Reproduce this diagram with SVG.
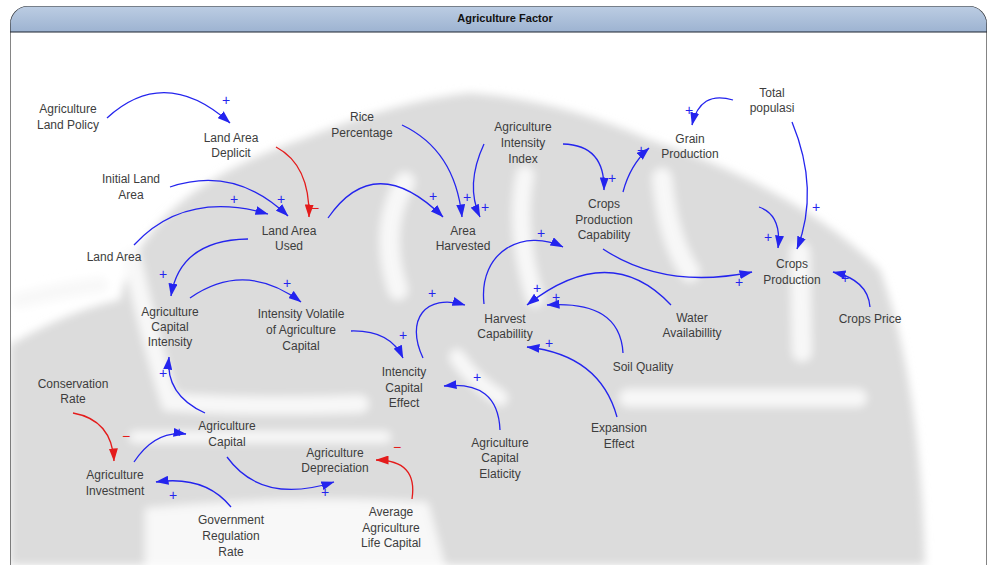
<svg xmlns="http://www.w3.org/2000/svg" width="989" height="565" viewBox="0 0 989 565">
  <defs>
    <linearGradient id="hdr" x1="0" y1="0" x2="0" y2="1">
      <stop offset="0" stop-color="#bccde3"/>
      <stop offset="1" stop-color="#9db3d1"/>
    </linearGradient>
    <clipPath id="frameClip">
      <rect x="10" y="6" width="977" height="600" rx="18"/>
    </clipPath>
    <filter id="soft" x="-5%" y="-5%" width="110%" height="110%">
      <feGaussianBlur stdDeviation="4"/>
    </filter>
    <marker id="ab" viewBox="0 0 13 9" markerWidth="13" markerHeight="9" refX="12.5" refY="4.5" orient="auto" markerUnits="userSpaceOnUse">
      <path d="M0,0 L13,4.5 L0,9 Z" fill="#2424ee"/>
    </marker>
    <marker id="ar" viewBox="0 0 13 9" markerWidth="13" markerHeight="9" refX="12.5" refY="4.5" orient="auto" markerUnits="userSpaceOnUse">
      <path d="M0,0 L13,4.5 L0,9 Z" fill="#e41b1b"/>
    </marker>
  </defs>
  <style>
    .lbl { font-family: "Liberation Sans", Arial, sans-serif; font-size: 12px; fill: #3d3d3d; text-anchor: middle; }
    .ttl { font-family: "Liberation Sans", Arial, sans-serif; font-size: 11px; font-weight: bold; fill: #111; text-anchor: middle; }
    .pos { stroke: #2424ee; stroke-width: 1.3; fill: none; marker-end: url(#ab); }
    .neg { stroke: #e41b1b; stroke-width: 1.3; fill: none; marker-end: url(#ar); }
    .p { font-family: "Liberation Sans", Arial, sans-serif; font-size: 14px; fill: #2424ee; text-anchor: middle; }
    .m { font-family: "Liberation Sans", Arial, sans-serif; font-size: 14px; fill: #e41b1b; text-anchor: middle; }
    .wm { fill: #dcdcdc; }
    .wb { fill: none; stroke: #f8f8f8; stroke-linecap: round; }
  </style>

  <rect width="989" height="565" fill="#ffffff"/>

  <!-- frame with header band -->
  <g id="frame" clip-path="url(#frameClip)">
    <rect x="10" y="6" width="977" height="600" fill="#ffffff"/>
    <!-- faded emblem in the background -->
    <g id="watermark" filter="url(#soft)">
      <path class="wm" d="M10,345 Q70,310 120,300 Q140,195 300,140 Q400,100 470,93 Q560,100 650,140 Q800,190 880,270 Q920,380 925,565 L10,565 Z"/>
      <path class="wb" stroke-width="18" d="M132,258 Q150,340 170,402 Q260,408 360,404"/>
      <path class="wb" stroke-width="20" d="M405,182 Q378,230 398,290"/>
      <path class="wb" stroke-width="18" d="M525,175 Q514,230 535,298"/>
      <path class="wb" stroke-width="20" d="M662,178 Q668,240 690,272"/>
      <path class="wb" stroke-width="20" d="M800,252 L802,352"/>
      <path class="wb" stroke-width="18" d="M628,398 L858,398"/>
      <path class="wb" stroke-width="12" d="M135,437 L385,437"/>
      <path d="M145,508 Q300,494 428,502 L445,565 L145,565 Z" fill="#f8f8f8"/>
      <path class="wb" stroke-width="16" d="M457,357 Q472,380 500,398"/>
      <path class="wb" stroke-width="16" d="M20,300 Q60,290 100,285"/>
    </g>
    <rect x="10" y="6" width="977" height="26" fill="url(#hdr)"/>
    <line x1="10" y1="32" x2="987" y2="32" stroke="#1c2530" stroke-width="1.2"/>
    <rect x="10" y="6" width="977" height="600" rx="18" fill="none" stroke="#333" stroke-width="1.2"/>
  </g>
  <text class="ttl" x="505" y="22">Agriculture Factor</text>

  <!-- causal links -->
  <g id="connectors">
    <path class="pos" d="M107,118 Q165,65 230,123"/>
    <text class="p" x="226" y="105">+</text>
    <path class="neg" d="M276,147 Q310,165 309,217"/>
    <text class="m" x="315" y="213">−</text>
    <path class="pos" d="M170,187 Q235,165 288,216"/>
    <text class="p" x="281" y="204">+</text>
    <path class="pos" d="M134,245 Q185,190 268,214"/>
    <text class="p" x="234" y="204">+</text>
    <path class="pos" d="M328,218 Q375,150 443,217"/>
    <text class="p" x="433" y="201">+</text>
    <path class="pos" d="M402,125 Q455,150 462,217"/>
    <text class="p" x="467" y="202">+</text>
    <path class="pos" d="M484,144 Q465,185 480,217"/>
    <text class="p" x="485" y="212">+</text>
    <path class="pos" d="M563,144 Q605,145 604,190"/>
    <text class="p" x="612" y="183">+</text>
    <path class="pos" d="M623,192 Q630,165 649,148"/>
    <text class="p" x="641" y="155">+</text>
    <path class="pos" d="M733,100 Q700,90 692,125"/>
    <text class="p" x="689" y="115">+</text>
    <path class="pos" d="M792,122 Q820,190 797,249"/>
    <text class="p" x="816" y="212">+</text>
    <path class="pos" d="M759,207 Q782,215 778,248"/>
    <text class="p" x="768" y="242">+</text>
    <path class="pos" d="M603,249 Q665,290 752,272"/>
    <text class="p" x="739" y="287">+</text>
    <path class="pos" d="M484,304 C478,250 525,228 563,247"/>
    <text class="p" x="541" y="238">+</text>
    <path class="pos" d="M671,305 Q610,240 527,305"/>
    <text class="p" x="537" y="293">+</text>
    <path class="pos" d="M623,353 Q620,300 547,305"/>
    <text class="p" x="556" y="302">+</text>
    <path class="pos" d="M617,417 Q600,355 527,347"/>
    <text class="p" x="549" y="348">+</text>
    <path class="pos" d="M870,307 Q868,280 833,272"/>
    <text class="p" x="845" y="283">+</text>
    <path class="pos" d="M248,239 Q180,240 171,296"/>
    <text class="p" x="163" y="279">+</text>
    <path class="pos" d="M190,298 Q245,260 301,302"/>
    <text class="p" x="287" y="288">+</text>
    <path class="pos" d="M351,331 Q390,330 403,358"/>
    <text class="p" x="403" y="340">+</text>
    <path class="pos" d="M423,358 C405,320 425,293 465,305"/>
    <text class="p" x="432" y="298">+</text>
    <path class="pos" d="M500,430 Q498,380 444,386"/>
    <text class="p" x="477" y="382">+</text>
    <path class="pos" d="M205,413 Q165,395 169,357"/>
    <text class="p" x="163" y="378">+</text>
    <path class="neg" d="M73,413 Q112,420 114,461"/>
    <text class="m" x="126" y="441">−</text>
    <path class="pos" d="M134,462 Q155,430 186,434"/>
    <text class="p" x="179" y="437">+</text>
    <path class="pos" d="M231,507 Q205,475 156,482"/>
    <text class="p" x="173" y="500">+</text>
    <path class="pos" d="M227,457 Q262,505 334,482"/>
    <text class="p" x="325" y="497">+</text>
    <path class="neg" d="M412,499 Q418,460 376,460"/>
    <text class="m" x="397" y="452">−</text>
  </g>

  <!-- variables -->
  <g id="agriculture-land-policy"><text class="lbl" x="68" y="113">Agriculture</text><text class="lbl" x="68" y="129">Land Policy</text></g>
  <g id="land-area-deplicit"><text class="lbl" x="231" y="142">Land Area</text><text class="lbl" x="231" y="157">Deplicit</text></g>
  <g id="initial-land-area"><text class="lbl" x="131" y="183">Initial Land</text><text class="lbl" x="131" y="199">Area</text></g>
  <g id="land-area"><text class="lbl" x="114" y="261">Land Area</text></g>
  <g id="land-area-used"><text class="lbl" x="289" y="235">Land Area</text><text class="lbl" x="289" y="250">Used</text></g>
  <g id="rice-percentage"><text class="lbl" x="362" y="121">Rice</text><text class="lbl" x="362" y="137">Percentage</text></g>
  <g id="agriculture-intensity-index"><text class="lbl" x="523" y="131">Agriculture</text><text class="lbl" x="523" y="147">Intensity</text><text class="lbl" x="523" y="163">Index</text></g>
  <g id="area-harvested"><text class="lbl" x="463" y="235">Area</text><text class="lbl" x="463" y="250">Harvested</text></g>
  <g id="crops-production-capability"><text class="lbl" x="604" y="208">Crops</text><text class="lbl" x="604" y="224">Production</text><text class="lbl" x="604" y="239">Capability</text></g>
  <g id="grain-production"><text class="lbl" x="690" y="143">Grain</text><text class="lbl" x="690" y="158">Production</text></g>
  <g id="total-populasi"><text class="lbl" x="772" y="97">Total</text><text class="lbl" x="772" y="112">populasi</text></g>
  <g id="crops-production"><text class="lbl" x="792" y="268">Crops</text><text class="lbl" x="792" y="284">Production</text></g>
  <g id="crops-price"><text class="lbl" x="870" y="323">Crops Price</text></g>
  <g id="water-availabillity"><text class="lbl" x="692" y="322">Water</text><text class="lbl" x="692" y="337">Availabillity</text></g>
  <g id="soil-quality"><text class="lbl" x="643" y="371">Soil Quality</text></g>
  <g id="expansion-effect"><text class="lbl" x="619" y="432">Expansion</text><text class="lbl" x="619" y="448">Effect</text></g>
  <g id="harvest-capabillity"><text class="lbl" x="505" y="323">Harvest</text><text class="lbl" x="505" y="338">Capabillity</text></g>
  <g id="intencity-capital-effect"><text class="lbl" x="404" y="376">Intencity</text><text class="lbl" x="404" y="392">Capital</text><text class="lbl" x="404" y="407">Effect</text></g>
  <g id="agriculture-capital-elaticity"><text class="lbl" x="500" y="447">Agriculture</text><text class="lbl" x="500" y="462">Capital</text><text class="lbl" x="500" y="478">Elaticity</text></g>
  <g id="agriculture-capital-intensity"><text class="lbl" x="170" y="316">Agriculture</text><text class="lbl" x="170" y="331">Capital</text><text class="lbl" x="170" y="346">Intensity</text></g>
  <g id="intensity-volatile"><text class="lbl" x="301" y="318">Intensity Volatile</text><text class="lbl" x="301" y="334">of Agriculture</text><text class="lbl" x="301" y="350">Capital</text></g>
  <g id="conservation-rate"><text class="lbl" x="73" y="388">Conservation</text><text class="lbl" x="73" y="403">Rate</text></g>
  <g id="agriculture-capital"><text class="lbl" x="227" y="430">Agriculture</text><text class="lbl" x="227" y="446">Capital</text></g>
  <g id="agriculture-investment"><text class="lbl" x="115" y="479">Agriculture</text><text class="lbl" x="115" y="495">Investment</text></g>
  <g id="agriculture-depreciation"><text class="lbl" x="335" y="457">Agriculture</text><text class="lbl" x="335" y="472">Depreciation</text></g>
  <g id="government-regulation-rate"><text class="lbl" x="231" y="524">Government</text><text class="lbl" x="231" y="540">Regulation</text><text class="lbl" x="231" y="556">Rate</text></g>
  <g id="average-agriculture-life-capital"><text class="lbl" x="391" y="516">Average</text><text class="lbl" x="391" y="532">Agriculture</text><text class="lbl" x="391" y="547">Life Capital</text></g>
</svg>
